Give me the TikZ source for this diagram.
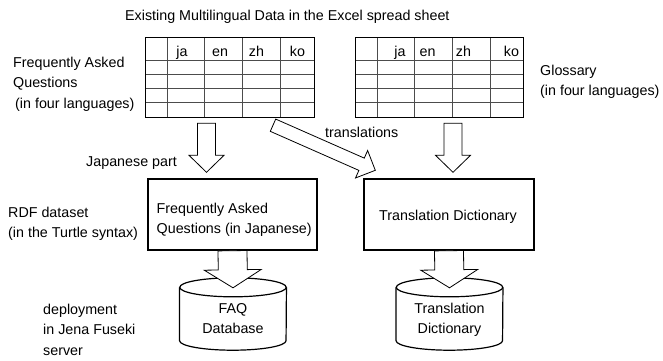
\documentclass[tikz,border=0pt]{standalone}
\usepackage{fontspec}
\setmainfont{Liberation Sans}
\usetikzlibrary{calc}

% several left-aligned lines whose base is the first line's baseline
\newcommand\lines[1]{\begin{tabular}[t]{@{}l@{}}#1\end{tabular}}
\newcommand\clines[1]{\begin{tabular}[t]{@{}c@{}}#1\end{tabular}}

% hollow block arrow: #1 tail, #2 tip, #3 half shaft width, #4 half head width, #5 head length
\newcommand\fatarrow[5]{%
  \coordinate (fahead) at ($(#2)!#5!(#1)$);
  \draw[blockarrow] ($(#1)!#3!90:(#2)$) -- ($(fahead)!#3!90:(#2)$)
    -- ($(fahead)!#4!90:(#2)$) -- (#2) -- ($(fahead)!#4!-90:(#2)$)
    -- ($(fahead)!#3!-90:(#2)$) -- ($(#1)!#3!-90:(#2)$) -- cycle;}

% database drum drawn round a named node
\newcommand\drum[1]{%
  \draw[dbline, fill=white] ([yshift=-9.5pt]#1.north west) -- ([yshift=9.5pt]#1.south west)
    arc[start angle=180, end angle=360, x radius=53.25pt, y radius=9.5pt]
    -- ([yshift=-9.5pt]#1.north east);
  \draw[dbline] ([yshift=-9.5pt]#1.north) ellipse[x radius=53.25pt, y radius=9.5pt];}

\begin{document}
\begin{tikzpicture}[x=1pt, y=-1pt,
  font=\fontsize{14.3pt}{20.5pt}\selectfont,
  txt/.style={inner sep=0pt, anchor=base west},
  hdr/.style={inner sep=0pt, anchor=base},
  sheet/.style={inner sep=0pt, minimum width=168pt, minimum height=79pt},
  cell/.style={line width=0.7pt, black!70},
  frame/.style={line width=1.3pt},
  box/.style={draw, line width=1.4pt, minimum width=169pt, minimum height=71pt, inner sep=0pt},
  blockarrow/.style={draw, fill=white, line width=0.8pt, line join=miter},
  db/.style={inner sep=0pt, minimum width=106.5pt, minimum height=72pt},
  dbline/.style={line width=1.2pt}]
\useasboundingbox (0,0) rectangle (663,360);

\node[txt] (title) at (125,20.5) {Existing Multilingual Data in the Excel spread sheet};

% the two spread sheets
\node[sheet] (tabL) at (230,77.5) {};
\node[sheet, minimum width=167pt] (tabR) at (439.5,77.5) {};
\foreach \t in {tabL,tabR}{
  \foreach \c in {21.5,59,96.5,135}
    \draw[cell] ([xshift=\c pt]\t.north west) -- ([xshift=\c pt]\t.south west);
  \foreach \r in {22.3,36.6,50.4,64.4}
    \draw[cell] ([yshift=-\r pt]\t.north west) -- ([yshift=-\r pt]\t.north east);
  \draw[frame] (\t.north west) rectangle (\t.south east);
}
\node[hdr] (lja) at (182,56.5) {ja};
\node[hdr] (len) at (220,56.5) {en};
\node[hdr] (lzh) at (256.5,56.5) {zh};
\node[hdr] (lko) at (297.5,56.5) {ko};
\node[hdr] (rja) at (400,56.5) {ja};
\node[hdr] (ren) at (427.5,56.5) {en};
\node[hdr] (rzh) at (463.5,56.5) {zh};
\node[hdr] (rko) at (511.5,56.5) {ko};

\node[txt] (faqlabel) at (13,67.3) {\lines{Frequently Asked\\Questions\\\hspace{2pt}(in four languages)}};
\node[txt] (glosslabel) at (540,75.2) {\lines{Glossary\\(in four languages)}};

% RDF datasets
\node[box] (faq) at (232.5,214.5) {};
\node[txt] (faqtxt) at (156.5,213.3) {\lines{Frequently Asked\\Questions (in Japanese)}};
\node[box, minimum width=170pt] (td) at (449,214.5) {};
\node[hdr] (tdtxt) at (448,220.5) {Translation Dictionary};

\node[txt] (rdflabel) at (8,217) {\lines{RDF dataset\\(in the Turtle syntax)}};
\node[txt] (jplabel) at (86,166.7) {Japanese part};
\node[txt] (trlabel) at (325,137) {translations};

% Fuseki databases
\node[db] (faqdb) at (233,314) {};
\node[db] (tddb) at (449.5,314) {};
\drum{faqdb}
\drum{tddb}
\node[hdr] (faqdbtxt) at (233,313) {\clines{FAQ\\Database}};
\node[hdr] (tddbtxt) at (449.5,313) {\clines{Translation\\Dictionary}};
\node[txt] (deplabel) at (43,314) {\lines{deployment\\in Jena Fuseki\\server}};

% block arrows
\coordinate (jpS) at ([xshift=-23.5pt,yshift=-6pt]tabL.south);
\coordinate (jpE) at ([yshift=6pt]jpS |- faq.north);
\coordinate (glS) at ([xshift=13.5pt,yshift=-6pt]tabR.south);
\coordinate (glE) at ([yshift=6pt]glS |- td.north);
\coordinate (trS) at ([xshift=43pt,yshift=-8pt]tabL.south);
\coordinate (trE) at ([xshift=12pt,yshift=8pt]td.north west);
\coordinate (fdE) at ([yshift=-10pt]faqdb.north);
\coordinate (tdE) at ([yshift=-10pt]tddb.north);

\fatarrow{jpS}{jpE}{9pt}{17.5pt}{17pt}
\fatarrow{glS}{glE}{9pt}{17.5pt}{17pt}
\fatarrow{trS}{trE}{6.7pt}{15pt}{15pt}
\fatarrow{faq.south}{fdE}{14.5pt}{28.5pt}{18pt}
\fatarrow{td.south}{tdE}{14.5pt}{28.5pt}{18pt}
\end{tikzpicture}
\end{document}
